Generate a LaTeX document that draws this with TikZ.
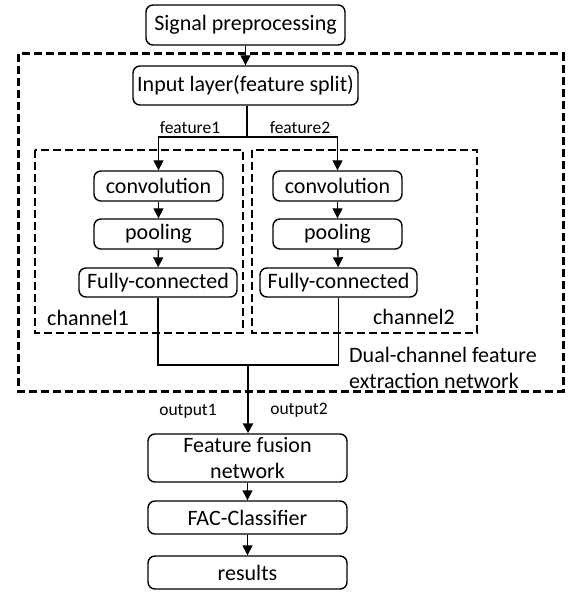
\documentclass[tikz,border=0pt]{standalone}
\usepackage{fontspec}
\setmainfont{Carlito}
\usetikzlibrary{arrows.meta}
\begin{document}
\begin{tikzpicture}[x=1pt,y=-1pt,
  box/.style={draw,line width=1.4pt,rounded corners=7pt,inner sep=0pt,align=center,
    font=\fontsize{22}{26}\selectfont},
  lbl/.style={inner sep=0pt,font=\fontsize{17.5}{20}\selectfont},
  big/.style={inner sep=0pt,font=\fontsize{22}{26}\selectfont},
  dbox/.style={draw,line width=2.6pt,dash pattern=on 8pt off 4pt},
  arr/.style={line width=1.4pt,-{Triangle[length=10pt,width=10pt]}},
  ln/.style={line width=1.4pt}]
\useasboundingbox (0,0) rectangle (567,593);
% dashed frames
\draw[dbox,line width=3pt] (18,54) rectangle (563,391);
\draw[dbox] (35,150) rectangle (243,333);
\draw[dbox] (252,150) rectangle (477,333);
% boxes
\node[box,minimum width=199pt,minimum height=40pt] (sig) at (245.5,25) {Signal preprocessing};
\node[box,minimum width=225pt,minimum height=39pt] (inp) at (245.5,85.5) {Input layer(feature split)};
\node[box,minimum width=129pt,minimum height=30pt] (c1) at (158.5,186) {convolution};
\node[box,minimum width=129pt,minimum height=30pt] (p1) at (158.5,234) {pooling};
\node[box,minimum width=158pt,minimum height=29pt] (f1) at (158,282.5) {Fully-connected};
\node[box,minimum width=129pt,minimum height=30pt] (c2) at (337.5,186) {convolution};
\node[box,minimum width=129pt,minimum height=30pt] (p2) at (337.5,234) {pooling};
\node[box,minimum width=157pt,minimum height=29pt] (f2) at (338.5,282.5) {Fully-connected};
\node[box,minimum width=199pt,minimum height=48pt] (fus) at (247.5,458) {Feature fusion\\network};
\node[box,minimum width=199pt,minimum height=33pt] (fac) at (247.5,517.5) {FAC-Classifier};
\node[box,minimum width=199pt,minimum height=33pt] (res) at (247.5,572.5) {results};
% labels
\node[lbl] (lf1) at (190,128) {feature1};
\node[lbl] (lf2) at (300,128) {feature2};
\node[lbl] (lo1) at (188,411) {output1};
\node[lbl] (lo2) at (299,410) {output2};
\node[big,anchor=west] (ch1) at (47,318) {channel1};
\node[big,anchor=east] (ch2) at (455,317) {channel2};
\node[big,anchor=west,align=left] (dual) at (349,368) {Dual-channel feature\\extraction network};
% coordinates
\coordinate (split) at (247,137);
\coordinate (join) at (248,365);
% connectors
\draw[arr] (sig) -- (inp);
\draw[ln] (inp.south -| split) -- (split);
\draw[arr] (split) -| (c1.north);
\draw[arr] (split) -| (c2.north);
\draw[arr] (c1) -- (p1);
\draw[arr] (p1) -- (f1);
\draw[arr] (c2) -- (p2);
\draw[arr] (p2) -- (f2);
\draw[ln] (f1.south) |- (join);
\draw[ln] (f2.south) |- (join);
\draw[arr,line width=2.4pt] (join) -- (fus.north -| join);
\draw[arr] (fus) -- (fac);
\draw[arr] (fac) -- (res);
\end{tikzpicture}
\end{document}
